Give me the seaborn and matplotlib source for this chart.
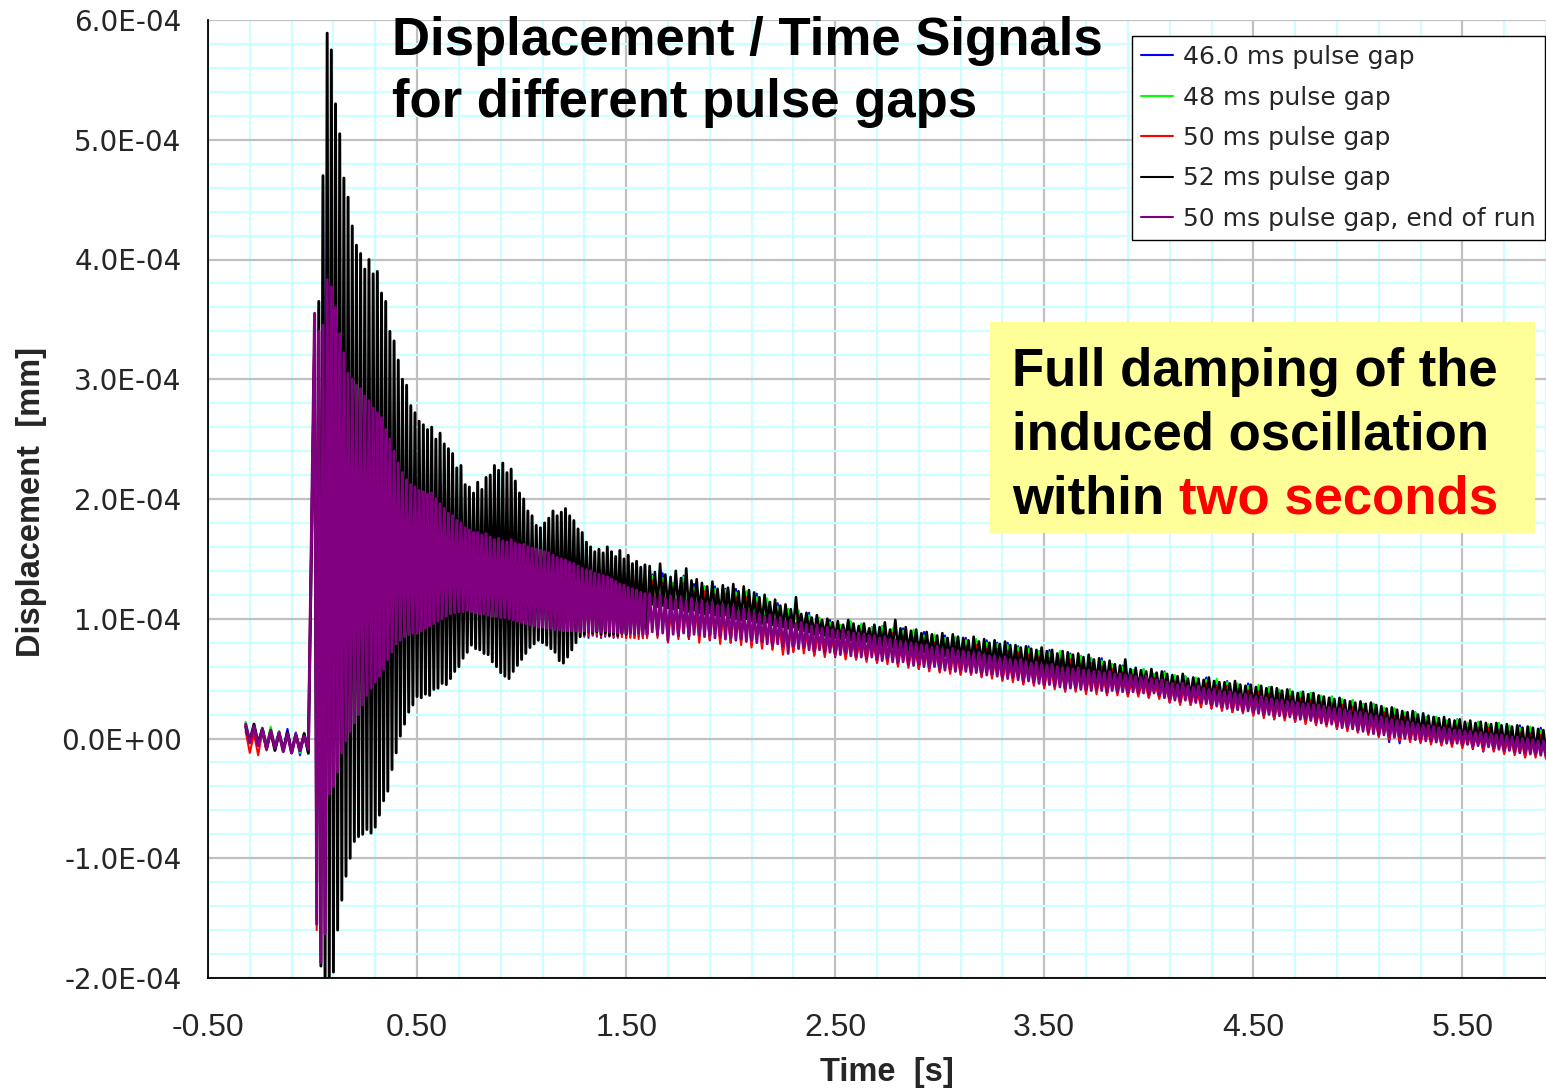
import numpy as np
import pandas as pd
import matplotlib
matplotlib.use("Agg")
import matplotlib.pyplot as plt
import seaborn as sns
from matplotlib.ticker import FixedLocator
from matplotlib.patches import Rectangle

# ---------------------------------------------------------------------------
# Displacement records in nanometres (1 nm = 1e-6 mm). Every record is stored
# as alternating peaks and troughs on uniform time grids:
# pre-trigger, ring-down and slow drift.
# ---------------------------------------------------------------------------
SERIES = ["46.0 ms pulse gap", "48 ms pulse gap", "50 ms pulse gap",
          "52 ms pulse gap", "50 ms pulse gap, end of run"]
COLORS = ["#0000ff", "#00ff00", "#ff0000", "#000000", "#800080"]

# (time of first peak [s], oscillation period [s])
PRE_GRID = (-0.32, 0.04)
OSC_GRID = (0.01, 0.02)
TAIL_GRID = (1.625, 0.05)
TAIL_GRID_FINE = (1.6125, 0.025)

# 46.0 ms pulse gap
blue_pre_peaks = [8, 10, 9, 7, 6, 8, 5, 4]
blue_pre_troughs = [-4, -6, -5, -8, -9, -10, -14, -13]
blue_osc_peaks = [350, 360, 462, 420, 395, 370, 345, 330, 312, 305, 300, 296, 292, 286, 280, 276,
                  272, 262, 254, 246, 236, 228, 222, 218, 214, 212, 210, 209, 208, 204, 200, 196,
                  192, 190, 186, 184, 182, 185, 186, 184, 180, 178, 176, 173, 172, 170, 168, 170,
                  167, 165, 164, 163, 162, 161, 160, 159, 157, 155, 153, 152, 150, 149, 148, 146,
                  144, 143, 141, 140, 139, 138, 137, 135, 133, 131, 130, 128, 127, 126, 124, 123]
blue_osc_troughs = [-150, -175, -25, -40, -36, -25, -10, 0, 4, 10, 16, 24, 32, 38, 44, 49,
                    55, 62, 68, 75, 78, 80, 83, 84, 85, 87, 89, 91, 93, 95, 97, 99,
                    100, 101, 102, 103, 96, 95, 97, 99, 99, 98, 97, 98, 96, 95, 95, 94,
                    94, 93, 92, 91, 90, 89, 88, 88, 87, 86, 86, 85, 86, 85, 85, 86,
                    85, 84, 86, 85, 84, 85, 86, 84, 85, 85, 84, 85, 84, 85, 84, 85]
blue_tail_peaks = [137, 138, 129, 136, 129, 127, 127, 125, 125, 122, 121, 114, 113, 108, 106, 105,
                   99, 99, 94, 96, 95, 93, 94, 91, 92, 88, 89, 84, 86, 84, 84, 81, 82, 80, 80,
                   77, 77, 73, 74, 70, 71, 69, 67, 67, 62, 61, 57, 58, 54, 56, 51, 52, 49, 51,
                   47, 48, 45, 46, 42, 43, 40, 41, 37, 38, 34, 35, 32, 32, 29, 29, 25, 25, 21,
                   22, 18, 18, 15, 16, 12, 14, 11, 13, 9, 11, 8, 9, 5]
blue_tail_troughs = [86, 84, 85, 83, 86, 82, 84, 80, 82, 78, 80, 75, 74, 73, 75, 70, 73, 68, 71,
                     66, 69, 64, 67, 62, 63, 58, 61, 56, 58, 54, 57, 52, 54, 49, 51, 46, 48, 43,
                     45, 40, 43, 39, 40, 37, 40, 36, 38, 34, 37, 30, 32, 28, 31, 25, 27, 22, 25,
                     20, 21, 16, 19, 14, 17, 12, 14, 8, 10, 5, 7, 2, -3, -4, 1, -3, 0, -5, -2,
                     -7, -9, -11, -10, -12, -9, -15, -11, -16]

# 48 ms pulse gap
green_pre_peaks = [14, 11, 9, 10, 6, 5, 4, 5]
green_pre_troughs = [-2, -5, -6, -7, -9, -11, -12, -13]
green_osc_peaks = [340, 320, 335, 360, 362, 350, 332, 318, 302, 297, 293, 290, 284, 280, 274, 270,
                   266, 256, 248, 238, 228, 220, 214, 211, 208, 206, 205, 203, 204, 199, 195, 191,
                   187, 185, 181, 179, 175, 173, 171, 171, 169, 170, 167, 165, 166, 164, 163, 165,
                   162, 161, 161, 159, 158, 157, 156, 155, 154, 152, 150, 149, 148, 146, 145, 143,
                   141, 140, 139, 137, 136, 135, 134, 132, 130, 128, 127, 125, 124, 123, 121, 120]
green_osc_troughs = [-150, -180, -150, -40, -36, -25, -10, 0, 7, 14, 21, 29, 37, 43, 48, 53,
                     59, 67, 73, 80, 83, 86, 88, 89, 89, 91, 93, 95, 97, 99, 101, 103,
                     105, 106, 107, 107, 108, 107, 106, 105, 105, 104, 103, 103, 102, 102, 101, 100,
                     99, 98, 97, 96, 95, 94, 94, 93, 93, 92, 92, 91, 91, 91, 91, 90,
                     91, 90, 90, 91, 90, 91, 90, 90, 89, 89, 89, 89, 88, 89, 88, 88]
green_tail_peaks = [136, 134, 130, 135, 126, 127, 125, 124, 122, 123, 118, 117, 110, 108, 107, 103,
                    101, 97, 95, 98, 96, 93, 94, 92, 90, 91, 86, 87, 84, 85, 82, 83, 80, 79, 78,
                    76, 75, 73, 72, 73, 70, 69, 67, 65, 62, 60, 57, 58, 54, 55, 53, 52, 51, 49,
                    50, 47, 46, 44, 45, 43, 41, 41, 39, 38, 36, 35, 33, 32, 29, 29, 26, 25, 22,
                    22, 18, 18, 15, 16, 13, 14, 12, 13, 11, 9, 10, 7, 5]
green_tail_troughs = [92, 90, 90, 89, 88, 87, 88, 85, 84, 84, 82, 80, 79, 78, 77, 76, 75, 74, 72,
                      72, 70, 69, 68, 66, 65, 64, 62, 61, 60, 60, 58, 58, 56, 55, 53, 51, 50, 48,
                      47, 46, 45, 44, 43, 43, 42, 41, 41, 40, 39, 37, 35, 34, 33, 31, 30, 28, 27,
                      25, 23, 22, 21, 20, 19, 17, 16, 14, 12, 11, 9, 7, 6, 4, 3, 2, 1, 0, -1,
                      -1, -2, -4, -5, -7, -8, -10, -10, -11]

# 50 ms pulse gap
red_pre_peaks = [6, 4, 6, 5, 4, 3, 4, 3]
red_pre_troughs = [-12, -14, -10, -9, -8, -9, -7, -8]
red_osc_peaks = [355, 340, 330, 372, 370, 352, 335, 318, 304, 298, 294, 291, 285, 281, 275, 271,
                 267, 257, 249, 239, 229, 221, 215, 212, 209, 207, 206, 204, 205, 200, 196, 192,
                 188, 186, 182, 180, 176, 174, 172, 172, 170, 171, 168, 166, 167, 165, 164, 166,
                 163, 162, 162, 160, 159, 158, 157, 156, 155, 153, 151, 150, 149, 147, 146, 144,
                 142, 141, 140, 138, 137, 136, 135, 133, 131, 129, 128, 126, 125, 124, 122, 121]
red_osc_troughs = [-160, -180, -130, -10, -30, -22, -8, 2, 8, 15, 22, 30, 38, 44, 49, 54,
                   60, 68, 74, 81, 84, 87, 86, 85, 86, 88, 90, 92, 94, 96, 97, 99,
                   101, 103, 104, 104, 105, 104, 103, 102, 101, 101, 100, 99, 99, 98, 98, 97,
                   96, 95, 94, 93, 92, 91, 91, 90, 89, 89, 88, 88, 87, 87, 87, 86,
                   86, 86, 86, 86, 85, 86, 85, 85, 84, 85, 84, 84, 84, 83, 84, 84]
red_tail_peaks = [132, 130, 126, 130, 122, 123, 120, 121, 118, 118, 113, 110, 106, 101, 103, 98,
                  95, 93, 90, 91, 88, 89, 86, 88, 86, 84, 82, 80, 79, 80, 77, 78, 75, 75, 73,
                  72, 70, 68, 67, 66, 66, 62, 63, 60, 58, 55, 53, 52, 50, 49, 47, 48, 45, 46,
                  43, 44, 41, 40, 39, 37, 38, 35, 33, 32, 30, 29, 28, 26, 25, 23, 22, 19, 18,
                  16, 14, 12, 11, 10, 9, 8, 9, 7, 6, 5, 4, 3, 1]
red_tail_troughs = [84, 80, 83, 84, 80, 82, 79, 80, 78, 76, 75, 74, 70, 72, 71, 69, 68, 69, 66,
                    66, 64, 63, 62, 60, 59, 58, 56, 55, 54, 53, 53, 51, 50, 48, 47, 45, 44, 42,
                    41, 39, 39, 37, 37, 36, 36, 35, 35, 34, 33, 30, 28, 28, 26, 25, 23, 22, 21,
                    19, 17, 16, 15, 14, 12, 11, 10, 8, 6, 5, 3, 1, -1, -2, -3, -4, -5, -6, -7,
                    -8, -8, -10, -11, -13, -14, -16, -16, -17]

# 52 ms pulse gap
black_pre_peaks = [10, 12, 8, 6, 4, 5, 3, 4]
black_pre_troughs = [-2, -4, -8, -10, -10, -12, -10, -12]
black_osc_peaks = [330, 365, 470, 589, 575, 530, 505, 468, 452, 428, 412, 405, 392, 400, 388, 390,
                   372, 365, 340, 332, 316, 300, 295, 278, 272, 265, 262, 258, 260, 250, 255, 246,
                   242, 238, 226, 228, 212, 210, 205, 214, 208, 218, 220, 228, 224, 230, 222, 225,
                   215, 205, 200, 190, 186, 178, 176, 180, 184, 190, 186, 189, 192, 186, 182, 175,
                   172, 164, 160, 156, 158, 155, 160, 156, 152, 157, 150, 153, 146, 148, 143, 145]
black_osc_troughs = [-120, -190, -205, -210, -195, -160, -135, -115, -100, -86, -82, -80, -76, -79,
                     -74, -64, -52, -44, -26, -12, 2, 12, 22, 28, 35, 34, 37, 36, 41, 42, 46, 45,
                     50, 56, 60, 67, 72, 78, 75, 74, 71, 70, 64, 60, 55, 52, 50, 56, 61, 66,
                     71, 76, 79, 82, 80, 78, 75, 72, 65, 63, 68, 74, 80, 85, 87, 89, 88, 89,
                     87, 88, 86, 87, 86, 88, 87, 89, 88, 90, 91, 92]
black_tail_peaks = [144, 139, 146, 137, 135, 140, 134, 142, 132, 133,
                    130, 127, 131, 125, 128, 126, 129, 123, 127, 124,
                    122, 118, 120, 114, 116, 111, 112, 108, 118, 104,
                    105, 101, 103, 99, 100, 97, 98, 95, 99, 96,
                    94, 96, 92, 95, 93, 97, 91, 99, 92, 93,
                    90, 91, 88, 89, 87, 86, 88, 84, 87, 85,
                    84, 82, 85, 81, 83, 80, 82, 79, 81, 78,
                    78, 76, 77, 75, 74, 76, 73, 74, 71, 73,
                    72, 70, 71, 68, 70, 66, 67, 64, 65, 62,
                    61, 66, 58, 59, 57, 56, 58, 55, 56, 54,
                    53, 52, 54, 50, 51, 50, 49, 51, 48, 47,
                    47, 46, 48, 45, 44, 45, 43, 44, 42, 43,
                    42, 40, 41, 39, 38, 39, 37, 38, 36, 35,
                    34, 33, 34, 32, 31, 30, 31, 29, 30, 28,
                    27, 25, 26, 24, 23, 22, 23, 20, 21, 19,
                    18, 17, 18, 16, 15, 16, 14, 15, 13, 14,
                    13, 12, 13, 11, 12, 10, 11, 9, 10, 9,
                    8, 7, 6]
black_tail_troughs = [112, 110, 111, 109, 108, 109, 107, 106, 107, 105,
                      104, 105, 103, 102, 103, 101, 100, 99, 100, 98,
                      97, 96, 97, 95, 94, 93, 92, 93, 91, 90,
                      89, 87, 88, 86, 85, 84, 83, 84, 82, 81,
                      80, 81, 79, 78, 77, 78, 76, 75, 74, 73,
                      72, 71, 72, 70, 69, 68, 69, 67, 66, 66,
                      65, 64, 64, 63, 62, 61, 62, 60, 59, 58,
                      57, 57, 56, 55, 54, 55, 53, 52, 52, 51,
                      50, 50, 49, 48, 49, 47, 46, 47, 45, 45,
                      44, 44, 43, 42, 43, 41, 40, 40, 39, 38,
                      37, 37, 36, 35, 34, 35, 33, 32, 32, 31,
                      30, 29, 30, 28, 27, 27, 26, 25, 25, 24,
                      23, 23, 22, 21, 21, 20, 19, 19, 18, 17,
                      16, 16, 15, 14, 13, 13, 12, 11, 10, 10,
                      9, 8, 7, 7, 6, 5, 4, 4, 3, 2,
                      2, 1, 0, 0, -1, -2, -2, -3, -3, -4,
                      -4, -5, -6, -6, -7, -8, -8, -9, -9, -10,
                      -10, -11, -11]

# 50 ms pulse gap, end of run
purple_pre_peaks = [12, 10, 8, 7, 5, 4, 3, 2]
purple_pre_troughs = [-3, -6, -9, -8, -11, -12, -10, -9]
purple_osc_peaks = [355, 340, 345, 383, 377, 360, 338, 322, 305, 300, 295, 292, 286, 282, 276, 272,
                    268, 258, 250, 240, 230, 222, 216, 212, 210, 207, 206, 204, 205, 200, 196, 192,
                    188, 186, 182, 180, 176, 174, 172, 172, 170, 171, 168, 166, 167, 165, 164, 166,
                    163, 162, 162, 160, 159, 158, 157, 156, 155, 153, 151, 150, 149, 147, 146, 144,
                    142, 141, 140, 138, 137, 136, 135, 133, 131, 129, 128, 126, 125, 124, 122, 121]
purple_osc_troughs = [-155, -187, -163, -46, -40, -28, -12, -2, 6, 13, 20, 28, 36, 42, 47, 52,
                      58, 66, 72, 79, 82, 85, 87, 88, 88, 90, 92, 94, 96, 98, 100, 102,
                      104, 105, 106, 106, 107, 106, 105, 104, 104, 103, 102, 102, 101, 101, 100, 99,
                      98, 97, 96, 95, 94, 93, 93, 92, 92, 91, 91, 90, 90, 90, 90, 89,
                      90, 89, 89, 90, 89, 90, 89, 89, 88, 88, 88, 88, 87, 88, 87, 87]
purple_tail_peaks = [121, 118, 120, 117, 119, 116, 118, 115, 117, 114,
                     115, 113, 114, 111, 112, 109, 110, 107, 108, 106,
                     105, 104, 102, 103, 100, 101, 98, 99, 96, 97,
                     95, 94, 95, 92, 93, 91, 90, 91, 89, 88,
                     88, 87, 86, 86, 84, 85, 83, 82, 81, 80,
                     80, 79, 78, 78, 76, 77, 75, 74, 75, 73,
                     73, 72, 71, 72, 70, 69, 69, 67, 68, 66,
                     65, 66, 64, 63, 64, 62, 61, 62, 60, 59,
                     59, 58, 59, 57, 57, 56, 56, 55, 56, 54,
                     54, 53, 53, 52, 51, 52, 50, 49, 49, 47,
                     46, 45, 46, 44, 43, 44, 42, 41, 41, 40,
                     39, 39, 38, 37, 37, 36, 35, 35, 34, 33,
                     32, 32, 31, 31, 30, 29, 29, 28, 28, 27,
                     26, 25, 25, 24, 23, 22, 22, 21, 20, 19,
                     18, 17, 16, 15, 14, 14, 13, 12, 11, 11,
                     10, 9, 9, 8, 7, 7, 6, 6, 5, 5,
                     4, 4, 3, 3, 2, 1, 1, 0, 0, -1,
                     -2, -2, -3]
purple_tail_troughs = [89, 87, 88, 82, 87, 86, 88, 85, 87, 86,
                       85, 86, 84, 85, 83, 84, 82, 83, 81, 82,
                       80, 81, 79, 78, 79, 77, 71, 77, 75, 76,
                       74, 73, 74, 72, 72, 71, 70, 71, 69, 69,
                       68, 67, 68, 66, 65, 66, 64, 63, 64, 62,
                       61, 62, 60, 59, 60, 58, 57, 58, 56, 57,
                       56, 55, 55, 54, 53, 54, 52, 51, 50, 51,
                       49, 48, 48, 47, 46, 45, 45, 44, 43, 42,
                       42, 42, 41, 41, 40, 41, 40, 39, 40, 39,
                       39, 38, 39, 38, 38, 37, 38, 36, 34, 33,
                       32, 31, 32, 31, 30, 30, 29, 28, 27, 26,
                       25, 25, 24, 23, 23, 22, 21, 20, 20, 19,
                       19, 18, 18, 17, 16, 16, 15, 14, 13, 12,
                       12, 11, 9, 9, 8, 7, 6, 5, 4, 3,
                       3, 2, 1, 1, 0, 0, -1, -1, -2, -2,
                       -3, -3, -4, -4, -4, -5, -5, -6, -6, -7,
                       -7, -8, -9, -10, -10, -11, -12, -12, -13, -13,
                       -14, -14, -15]

RECORDS = {
    SERIES[0]: (blue_pre_peaks, blue_pre_troughs, blue_osc_peaks, blue_osc_troughs,
                blue_tail_peaks, blue_tail_troughs),
    SERIES[1]: (green_pre_peaks, green_pre_troughs, green_osc_peaks, green_osc_troughs,
                green_tail_peaks, green_tail_troughs),
    SERIES[2]: (red_pre_peaks, red_pre_troughs, red_osc_peaks, red_osc_troughs,
                red_tail_peaks, red_tail_troughs),
    SERIES[3]: (black_pre_peaks, black_pre_troughs, black_osc_peaks, black_osc_troughs,
                black_tail_peaks, black_tail_troughs),
    SERIES[4]: (purple_pre_peaks, purple_pre_troughs, purple_osc_peaks, purple_osc_troughs,
                purple_tail_peaks, purple_tail_troughs),
}
TAIL_GRIDS = {SERIES[0]: TAIL_GRID, SERIES[1]: TAIL_GRID, SERIES[2]: TAIL_GRID,
              SERIES[3]: TAIL_GRID_FINE, SERIES[4]: TAIL_GRID_FINE}

NM_TO_MM = 1e-6


def zigzag(grid, peaks, troughs):
    """Interleave peaks and troughs on the half-period time grid."""
    t0, period = grid
    n_t = min(len(troughs), len(peaks))
    n_p = min(len(peaks), n_t + 1)
    y = np.empty(n_p + n_t)
    y[0::2] = peaks[:n_p]
    y[1::2] = troughs[:n_t]
    t = t0 + 0.5 * period * np.arange(y.size)
    return t, y


early, late = {}, {}
for name, (pp, pt, op, ot, tp, tt) in RECORDS.items():
    t1, y1 = zigzag(PRE_GRID, pp, pt)
    t2, y2 = zigzag(OSC_GRID, op, ot)
    t3, y3 = zigzag(TAIL_GRIDS[name], tp, tt)
    early[name] = pd.DataFrame({"Time": np.r_[t1, t2],
                                "Displacement": np.r_[y1, y2] * NM_TO_MM})
    late[name] = pd.DataFrame({"Time": np.r_[t2[-1:], t3],
                               "Displacement": np.r_[y2[-1:], y3] * NM_TO_MM})

# ---------------------------------------------------------------------------
sns.set_style("white")
plt.rcParams["font.family"] = ["Liberation Sans", "DejaVu Sans"]

W, H = 1546, 1089
fig = plt.figure(figsize=(W / 100, H / 100), dpi=100)
fig.patch.set_facecolor("white")
ax = fig.add_axes([208 / W, (H - 978) / H, (W - 208) / W, (978 - 20) / H])

early_lw = {SERIES[0]: 1.5, SERIES[1]: 1.5, SERIES[2]: 1.5, SERIES[3]: 2.1, SERIES[4]: 2.2}
late_lw = {SERIES[0]: 1.5, SERIES[1]: 1.5, SERIES[2]: 1.5, SERIES[3]: 1.9, SERIES[4]: 2.0}

for name, color in zip(SERIES, COLORS):
    sns.lineplot(data=early[name], x="Time", y="Displacement", color=color,
                 linewidth=early_lw[name], estimator=None, sort=False, label=name, ax=ax)
for name, color in zip(SERIES, COLORS):
    sns.lineplot(data=late[name], x="Time", y="Displacement", color=color,
                 linewidth=late_lw[name], estimator=None, sort=False, legend=False, ax=ax)

ax.set_xlim(-0.5, 5.9)
ax.set_ylim(-2e-4, 6e-4)

# grid: grey major lines, light cyan minor lines
xmaj = np.arange(-0.5, 5.51, 1.0)
ax.xaxis.set_major_locator(FixedLocator(xmaj))
ax.xaxis.set_minor_locator(FixedLocator(np.arange(-0.5, 5.95, 0.2)))
ax.set_xticklabels([f"{v:.2f}" for v in xmaj], fontsize=23)
ymaj = np.arange(-2, 7) * 1e-4
ax.yaxis.set_major_locator(FixedLocator(ymaj))
ax.yaxis.set_minor_locator(FixedLocator(np.arange(-2, 6.01, 0.2) * 1e-4))
ax.set_yticklabels([f"{v:.1E}" for v in ymaj], fontsize=20, fontfamily="DejaVu Sans")

ax.grid(which="minor", color="#ccffff", linewidth=1.6)
ax.grid(which="major", color="#c0c0c0", linewidth=1.6)
ax.set_axisbelow(True)
ax.tick_params(which="major", direction="out", length=8, width=1.2, color="black")
ax.tick_params(which="minor", length=0)
ax.tick_params(axis="x", pad=17.5)
ax.tick_params(axis="y", pad=11)
for side in ("top", "right"):
    ax.spines[side].set_visible(False)
for side in ("left", "bottom"):
    ax.spines[side].set_color("black")
    ax.spines[side].set_linewidth(1.3)

label_font = dict(fontsize=23.5, fontweight="bold",
                  fontfamily=["Liberation Sans Narrow", "Liberation Sans"])
ax.set_xlabel("Time  [s]", **label_font)
ax.set_ylabel("Displacement  [mm]", **label_font)
ax.xaxis.set_label_coords((887 - 208) / 1338, (978 - 1057) / 958)
ax.yaxis.set_label_coords((47 - 208) / 1338, (978 - 502) / 958)

handles, labels = ax.get_legend_handles_labels()
if ax.get_legend() is not None:
    ax.get_legend().remove()
leg = ax.legend(handles[:len(SERIES)], labels[:len(SERIES)], loc="upper right",
                bbox_to_anchor=(1545 / W, 1 - 36 / H), bbox_transform=fig.transFigure,
                borderaxespad=0, frameon=True, fancybox=False, framealpha=1,
                edgecolor="black", prop={"family": "DejaVu Sans", "size": 18},
                handlelength=1.3, handletextpad=0.4, labelspacing=0.66, borderpad=0.36)
leg.get_frame().set_linewidth(1.0)
for line in leg.get_lines():
    line.set_linewidth(1.5)

# headline
title_font = dict(fontsize=38, fontweight="bold", color="black", va="baseline", ha="left")
fig.text(392 / W, 1 - 55 / H, "Displacement / Time Signals", **title_font)
fig.text(392 / W, 1 - 117 / H, "for different pulse gaps", **title_font)

# note box
fig.add_artist(Rectangle((990 / W, 1 - 533 / H), 545 / W, 211 / H, transform=fig.transFigure,
                         facecolor="#ffff99", edgecolor="none"))
note_font = dict(fontsize=38, fontweight="bold", va="baseline", ha="left")
fig.text(1012 / W, 1 - 386 / H, "Full damping of the", color="black", **note_font)
fig.text(1012 / W, 1 - 450 / H, "induced oscillation", color="black", **note_font)
within = fig.text(1012 / W, 1 - 513 / H, "within", color="black", **note_font)
fig.add_artist(plt.Annotation("two seconds", xy=(1, 0), xycoords=within,
                              xytext=(10.5, 0), textcoords="offset points",
                              color="#ff0000", fontsize=38, fontweight="bold",
                              va="bottom", ha="left"))

fig.savefig("out.png", dpi=100, facecolor="white")
